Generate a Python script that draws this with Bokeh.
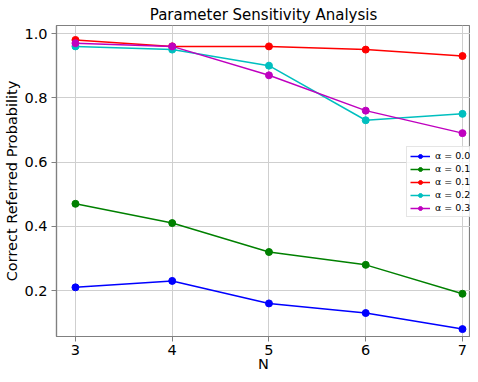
from bokeh.plotting import figure
from bokeh.models import Range1d, Legend, LegendItem, FixedTicker
from bokeh.embed import file_html
from bokeh.resources import INLINE

N = [3, 4, 5, 6, 7]
labels = ["α = 0.0", "α = 0.1", "α = 0.1", "α = 0.2", "α = 0.3"]
s0 = [0.21, 0.23, 0.16, 0.13, 0.08]
s1 = [0.47, 0.41, 0.32, 0.28, 0.19]
s2 = [0.98, 0.96, 0.96, 0.95, 0.93]
s3 = [0.96, 0.95, 0.90, 0.73, 0.75]
s4 = [0.97, 0.96, 0.87, 0.76, 0.69]
series = [s0, s1, s2, s3, s4]
colors = ["#0000ff", "#008000", "#ff0000", "#00bfbf", "#bf00bf"]

FONT = "DejaVu Sans"

p = figure(width=470, height=374, output_backend="svg", toolbar_location=None,
           x_range=Range1d(2.804, 7.083), y_range=Range1d(0.057, 1.025),
           title="Parameter Sensitivity Analysis",
           min_border_left=56, min_border_right=0, min_border_top=25, min_border_bottom=38)

p.title.align = "center"
p.title.text_font = FONT
p.title.text_font_size = "15px"
p.title.text_font_style = "normal"
p.title.text_color = "#000000"
p.title.standoff = 4
p.title.offset = 8

p.xaxis.ticker = FixedTicker(ticks=[3, 4, 5, 6, 7])
p.yaxis.ticker = FixedTicker(ticks=[0.2, 0.4, 0.6, 0.8, 1.0])
p.xaxis.axis_label = "N"
p.yaxis.axis_label = "Correct Referred Probability"
for ax in (p.xaxis[0], p.yaxis[0]):
    ax.axis_label_text_font = FONT
    ax.axis_label_text_font_size = "14.5px"
    ax.axis_label_text_font_style = "normal"
    ax.axis_label_text_color = "#000000"
    ax.major_label_text_font = FONT
    ax.major_label_text_font_size = "14.5px"
    ax.major_label_text_color = "#000000"
    ax.axis_line_color = "#808080"
    ax.axis_line_width = 1.2
    ax.major_tick_line_color = "#808080"
    ax.major_tick_out = 5
    ax.major_tick_in = 0
    ax.minor_tick_line_color = None
p.xaxis[0].major_label_standoff = 3
p.xaxis[0].axis_label_standoff = -2
p.yaxis[0].major_label_standoff = 4
p.yaxis[0].axis_label_standoff = 1
p.yaxis[0].major_label_overrides = {0.2: "0.2", 0.4: "0.4", 0.6: "0.6", 0.8: "0.8", 1.0: "1.0"}

p.outline_line_color = "#808080"
p.outline_line_width = 1.2
p.xgrid.grid_line_color = "#cfcfcf"
p.ygrid.grid_line_color = "#cfcfcf"

items = []
for ys, c, lab in zip(series, colors, labels):
    r1 = p.line(N, ys, line_color=c, line_width=1.5)
    r2 = p.scatter(N, ys, size=7, fill_color=c, line_color=c)
    items.append(LegendItem(label=lab, renderers=[r1, r2]))

legend = Legend(items=items, location=(350, 119))
legend.label_text_font = FONT
legend.label_text_font_size = "9.5px"
legend.label_text_color = "#000000"
legend.glyph_width = 20
legend.glyph_height = 10
legend.spacing = 2
legend.padding = 3
legend.margin = 0
legend.label_standoff = 5
legend.border_line_color = "#cccccc"
legend.background_fill_alpha = 0.8
p.add_layout(legend, "center")

open("out.html", "w").write(file_html(p, INLINE))
